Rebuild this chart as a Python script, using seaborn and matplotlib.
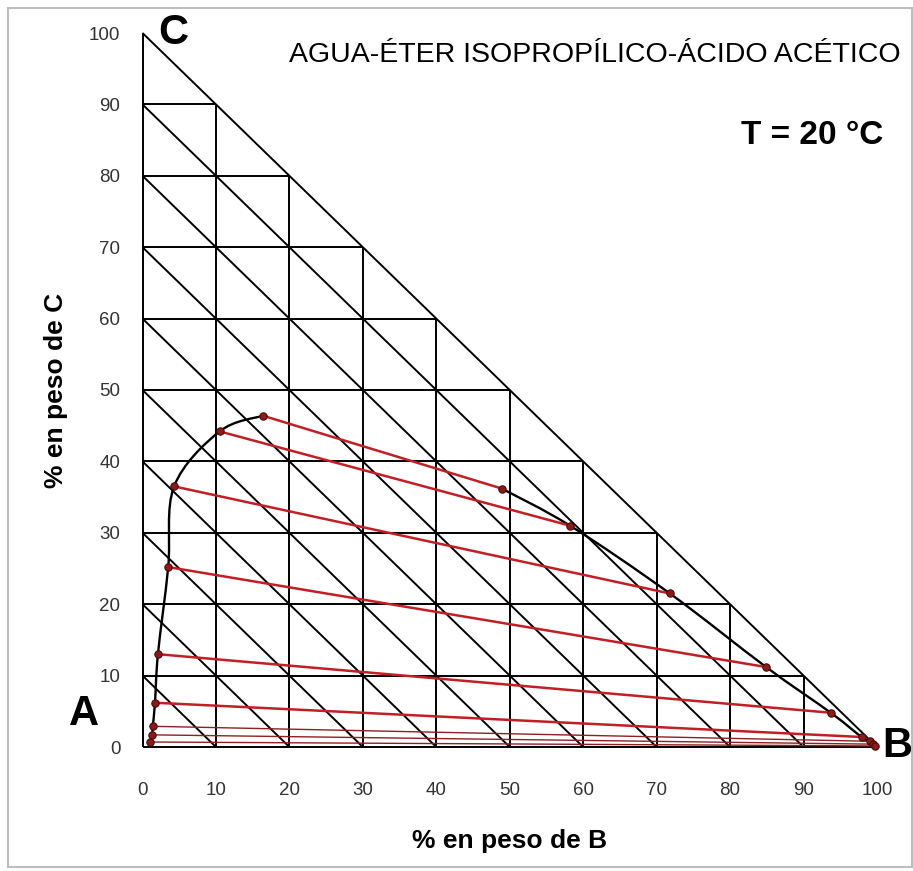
import numpy as np
import pandas as pd
import matplotlib
matplotlib.use("Agg")
import matplotlib.pyplot as plt
from matplotlib.path import Path
from matplotlib.patches import PathPatch, Rectangle
import seaborn as sns

# ---------------- data ----------------
ticks = list(range(0, 101, 10))
tick_labels = [str(t) for t in ticks]

# raffinate-phase points (% B, % C), tie lines pair index-wise with extract points
raff_B = [16.4, 10.5, 4.3, 3.5, 2.1, 1.7, 1.4, 1.3, 1.0]
raff_C = [46.4, 44.2, 36.5, 25.2, 13.0, 6.2, 2.9, 1.7, 0.7]
ext_B = [48.9, 58.2, 71.8, 84.9, 93.7, 97.9, 99.0, 99.4, 99.7]
ext_C = [36.2, 31.0, 21.5, 11.2, 4.8, 1.4, 0.8, 0.4, 0.15]

title = "AGUA-ÉTER ISOPROPÍLICO-ÁCIDO ACÉTICO"
temp_label = "T = 20 °C"
xlabel = "% en peso de B"
ylabel = "% en peso de C"
corner_labels = ["A", "B", "C"]

# ---------------- style ----------------
sns.set_style("white")
plt.rcParams["font.family"] = ["Liberation Sans", "DejaVu Sans"]
plt.rcParams["text.color"] = "black"
plt.rcParams["axes.labelcolor"] = "black"

W, H = 913, 871
fig = plt.figure(figsize=(W / 100, H / 100), dpi=100)
ax = fig.add_axes([142.5 / W, 1 - 747 / H, (877 - 142.5) / W, (747 - 33) / H])
ax.set_xlim(0, 100)
ax.set_ylim(0, 100)
for s in ax.spines.values():
    s.set_visible(False)

grid_kw = dict(color="black", lw=1.4, solid_capstyle="butt", zorder=1, clip_on=False)
# horizontal (constant C), vertical (constant B) and diagonal (constant A) lines
for k in ticks:
    ax.plot([0, 100 - k], [k, k], **grid_kw)
    ax.plot([k, k], [0, 100 - k], **grid_kw)
    if k > 0:
        ax.plot([0, k], [k, 0], **grid_kw)


def smooth_path(xs, ys):
    pts = np.column_stack([xs, ys])
    n = len(pts)
    verts = [pts[0]]
    codes = [Path.MOVETO]
    for i in range(n - 1):
        p0 = pts[i - 1] if i > 0 else pts[i]
        p1 = pts[i]
        p2 = pts[i + 1]
        p3 = pts[i + 2] if i + 2 < n else pts[i + 1]
        c1 = p1 + (p2 - p0) / 6.0
        c2 = p2 - (p3 - p1) / 6.0
        verts += [c1, c2, p2]
        codes += [Path.CURVE4] * 3
    return Path(verts, codes)


# binodal curves (raffinate branch and extract branch)
ax.add_patch(PathPatch(smooth_path(raff_B[::-1], raff_C[::-1]), fill=False,
                       edgecolor="black", lw=1.7, zorder=3, clip_on=False))
ax.add_patch(PathPatch(smooth_path(ext_B, ext_C), fill=False,
                       edgecolor="black", lw=1.7, zorder=3, clip_on=False))

# tie lines
rows = []
for i in range(len(raff_B)):
    rows.append({"B": raff_B[i], "C": raff_C[i], "tie": i})
    rows.append({"B": ext_B[i], "C": ext_C[i], "tie": i})
ties = pd.DataFrame(rows)
thick = ties[ties["tie"] < 6]
thin = ties[ties["tie"] >= 6]
sns.lineplot(data=thick, x="B", y="C", units="tie", estimator=None, sort=False,
             color="#c01f26", lw=1.8, ax=ax, zorder=4, legend=False)
sns.lineplot(data=thin, x="B", y="C", units="tie", estimator=None, sort=False,
             color="#8e1f24", lw=1.0, ax=ax, zorder=4, legend=False)

pts = pd.DataFrame({"B": raff_B + ext_B, "C": raff_C + ext_C})
sns.scatterplot(data=pts, x="B", y="C", s=28, color="#8b1a1a", edgecolor="#4a0a0a",
                linewidth=0.8, ax=ax, zorder=5, legend=False, clip_on=False)
for art in ax.collections + ax.lines:
    art.set_clip_on(False)

# ticks
ax.set_xticks(ticks)
ax.set_xticklabels(tick_labels)
ax.set_yticks(ticks)
ax.set_yticklabels(tick_labels)
ax.tick_params(axis="both", direction="out", length=6, width=1, color="black",
               labelcolor="#333333", labelsize=13.5)
ax.tick_params(axis="x", pad=19)
ax.tick_params(axis="y", pad=10)

ax.set_xlabel(xlabel, fontsize=19, fontweight="bold", labelpad=22)
ax.set_ylabel(ylabel, fontsize=19, fontweight="bold", labelpad=15)

# texts
ax.text(61.6, 96.9, title, ha="center", va="center", fontsize=20.5,
        color="black", clip_on=False)
ax.text(91.2, 85.6, temp_label, ha="center", va="center", fontsize=24,
        fontweight="bold", color="black", clip_on=False)
ax.text(-8.0, 4.6, corner_labels[0], ha="center", va="center", fontsize=30,
        fontweight="bold", color="black", clip_on=False)
ax.text(102.7, 0.1, corner_labels[1], ha="center", va="center", fontsize=30,
        fontweight="bold", color="black", clip_on=False)
ax.text(4.2, 100.0, corner_labels[2], ha="center", va="center", fontsize=30,
        fontweight="bold", color="black", clip_on=False)

# outer frame
fig.add_artist(Rectangle((8 / W, 1 - 867 / H), 904 / W, 859 / H, fill=False,
                         edgecolor="#bdbdbd", lw=1.5, transform=fig.transFigure))

fig.savefig("out.png", dpi=100)
